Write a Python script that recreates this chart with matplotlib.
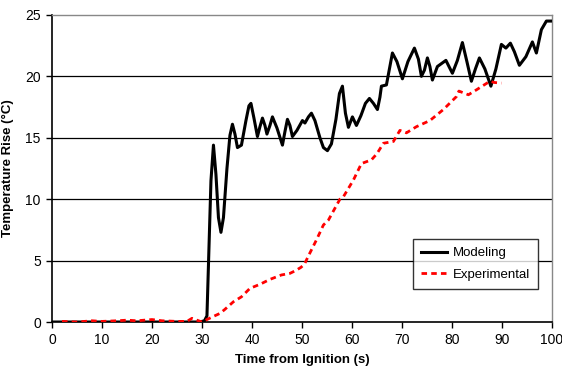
import matplotlib
matplotlib.use("Agg")
import matplotlib.pyplot as plt

# Modeling curve
model_t = [0, 10, 20, 29.5, 30.5, 31.0, 31.4, 31.8, 32.3, 32.8, 33.3, 33.8, 34.3,
           35.0, 35.6, 36.1, 36.6, 37.1, 37.9, 38.8, 39.4, 39.8, 40.4, 41.1, 41.6,
           42.1, 42.6, 43.0, 43.6, 44.1, 45.0, 46.1, 46.6, 47.1, 47.6, 48.1, 49.0,
           50.1, 50.6, 51.3, 51.9, 52.6, 53.6, 54.3, 55.1, 55.9, 56.8, 57.5, 58.1,
           58.7, 59.3, 60.1, 60.9, 61.8, 62.7, 63.5, 64.3, 65.1, 65.6, 65.9, 66.9,
           67.5, 68.1, 69.0, 70.1, 71.2, 72.5, 73.3, 73.9, 74.5, 75.1, 75.6, 76.1,
           77.1, 78.8, 79.6, 80.1, 81.1, 82.1, 83.0, 83.9, 84.7, 85.5, 86.6, 87.8,
           88.8, 89.9, 90.8, 91.7, 92.5, 93.5, 94.8, 96.1, 96.9, 97.9, 98.9, 100]
model_y = [0, 0, 0, 0, 0.1, 0.5, 6.0, 11.5, 14.4, 12.0, 8.5, 7.3, 8.5,
           12.5, 15.2, 16.1, 15.3, 14.2, 14.4, 16.4, 17.6, 17.8, 16.6, 15.1, 15.9,
           16.6, 16.0, 15.3, 16.0, 16.7, 15.8, 14.4, 15.5, 16.5, 16.0, 15.1, 15.6,
           16.4, 16.2, 16.7, 17.0, 16.4, 15.0, 14.2, 13.95, 14.5, 16.5, 18.6, 19.2,
           17.0, 15.85, 16.7, 16.0, 16.8, 17.8, 18.2, 17.8, 17.3, 18.3, 19.2, 19.3,
           20.6, 21.9, 21.2, 19.8, 21.2, 22.3, 21.4, 20.0, 20.5, 21.5, 20.8, 19.7,
           20.8, 21.3, 20.65, 20.25, 21.3, 22.75, 21.2, 19.6, 20.6, 21.5, 20.6, 19.2,
           20.6, 22.6, 22.3, 22.7, 22.0, 20.9, 21.6, 22.8, 21.9, 23.8, 24.5, 24.5]

# Experimental curve
exp_t = [2, 5, 8, 10, 13, 15, 17, 20, 22, 25, 27, 28, 29, 30, 31, 32, 33.6, 34.5,
         36.3, 37.9, 39.6, 41.6, 43.6, 45.9, 47.6, 48.8, 49.8, 50.5, 51.2, 52.9,
         54.3, 55.3, 57.6, 58.3, 60.3, 61.9, 63.9, 65.0, 66.3, 68.3, 69.6, 70.9,
         72.9, 75.6, 78.3, 80.9, 81.4, 83.3, 84.9, 87.6, 88.5, 89.9]
exp_y = [0.05, 0.0, 0.1, 0.05, 0.1, 0.15, 0.1, 0.2, 0.1, 0.05, 0.05, 0.3, 0.15, 0.0, 0.2, 0.4, 0.7, 1.0,
         1.65, 2.05, 2.74, 3.07, 3.47, 3.83, 3.96, 4.2, 4.45, 4.7, 5.3, 6.68,
         7.9, 8.3, 10.0, 10.2, 11.56, 12.9, 13.2, 13.7, 14.55, 14.7, 15.6, 15.4,
         15.9, 16.4, 17.3, 18.35, 18.8, 18.5, 18.9, 19.6, 19.5, 19.45]

x_ticks = list(range(0, 101, 10))
y_ticks = [0, 5, 10, 15, 20, 25]

plt.rcParams['font.family'] = ['Liberation Sans', 'DejaVu Sans']

fig = plt.figure(figsize=(5.62, 3.73), dpi=100)
ax = fig.add_axes([0.0925, 0.1367, 0.8895, 0.8233])

for yv in y_ticks[1:-1]:
    ax.axhline(yv, color="black", lw=0.9, zorder=1)

ax.plot(model_t, model_y, color="black", lw=2.2, label="Modeling", zorder=3,
        solid_joinstyle="round")
ax.plot(exp_t, exp_y, color="#ff0000", lw=2.0, ls=(0, (2, 1.5)), label="Experimental",
        zorder=4)

ax.set_xlim(0, 100)
ax.set_ylim(0, 25)
ax.set_xticks(x_ticks)
ax.set_yticks(y_ticks)
ax.tick_params(direction="out", length=4, width=1, labelsize=10, pad=4)

for side in ["top", "right"]:
    ax.spines[side].set_color("#888888")
    ax.spines[side].set_linewidth(1)
for side in ["left", "bottom"]:
    ax.spines[side].set_linewidth(1.2)

ax.set_xlabel("Time from Ignition (s)", fontsize=9.5, fontweight="bold", labelpad=5)
ax.set_ylabel("Temperature Rise (\u00b0C)", fontsize=9.5, fontweight="bold", labelpad=8)

leg = ax.legend(loc="upper left", bbox_to_anchor=(0.722, 0.27),
                fontsize=9.5, frameon=True, fancybox=False, handlelength=2.0,
                borderpad=0.6, labelspacing=0.7, handletextpad=0.4, borderaxespad=0)
leg.get_frame().set_edgecolor("black")
leg.get_frame().set_linewidth(1)

fig.savefig("out.png", dpi=100)
